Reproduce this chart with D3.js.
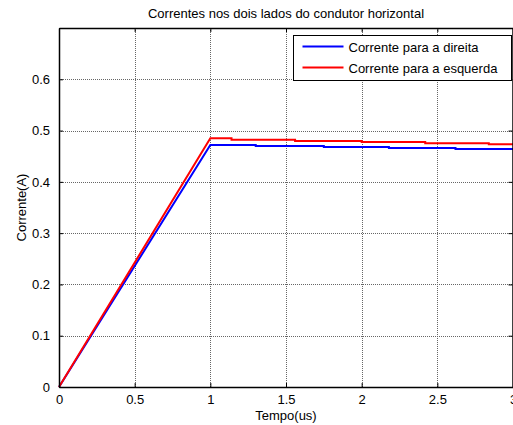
<!DOCTYPE html>
<html>
<head>
<meta charset="utf-8">
<script src="https://cdn.jsdelivr.net/npm/d3@7"></script>
<style>
  body { margin: 0; background: #fff; }
  svg { font-family: "Liberation Sans", Arial, sans-serif; }
</style>
</head>
<body>
<div id="container"></div>
<script>
// current to the right (blue)
var tRight = [0, 1, 1.30, 1.30, 1.75, 1.75, 2.18, 2.18, 2.62, 2.62, 3];
var iRight = [0, 0.472, 0.472, 0.470, 0.470, 0.468, 0.468, 0.466, 0.466, 0.464, 0.464];
// current to the left (red)
var tLeft = [0, 1, 1.14, 1.14, 1.56, 1.56, 2.0, 2.0, 2.42, 2.42, 2.84, 2.84, 3];
var iLeft = [0, 0.485, 0.485, 0.482, 0.482, 0.4795, 0.4795, 0.4775, 0.4775, 0.4755, 0.4755, 0.4735, 0.4735];

var xTicks = [0, 0.5, 1, 1.5, 2, 2.5, 3];
var yTicks = [0, 0.1, 0.2, 0.3, 0.4, 0.5, 0.6];
var legendNames = ["Corrente para a direita", "Corrente para a esquerda"];
var colors = ["#0000ff", "#ff0000"];

var W = 513, H = 425;
var mLeft = 59, mRight = 513, mTop = 28, mBottom = 387;
var FS = 13;

var drawChart = function () {
    var svg = d3.select("#container").append("svg")
        .attr("width", W)
        .attr("height", H);

    var x = d3.scaleLinear().domain([0, 3]).range([mLeft, mRight]);
    var y = d3.scaleLinear().domain([0, 0.7]).range([mBottom, mTop]);

    // grid
    var grid = svg.append("g").attr("stroke", "#666").attr("stroke-width", 1)
        .attr("stroke-dasharray", "1,1");
    xTicks.forEach(function (t) {
        grid.append("line")
            .attr("x1", Math.round(x(t)) + 0.5).attr("x2", Math.round(x(t)) + 0.5)
            .attr("y1", mTop).attr("y2", mBottom);
    });
    yTicks.forEach(function (t) {
        grid.append("line")
            .attr("x1", mLeft).attr("x2", mRight)
            .attr("y1", Math.round(y(t)) + 0.5).attr("y2", Math.round(y(t)) + 0.5);
    });

    // lines
    var line = d3.line().x(function (d) { return x(d[0]); }).y(function (d) { return y(d[1]); });
    var series = [d3.zip(tRight, iRight), d3.zip(tLeft, iLeft)];
    series.forEach(function (s, k) {
        svg.append("path")
            .datum(s)
            .attr("d", line)
            .attr("fill", "none")
            .attr("stroke", colors[k])
            .attr("stroke-width", 2);
    });

    // axes (ticks inward)
    var xAxis = svg.append("g")
        .attr("transform", "translate(0," + mBottom + ")")
        .call(d3.axisBottom(x).tickValues(xTicks).tickSizeInner(-4).tickSizeOuter(0).tickPadding(8)
            .tickFormat(d3.format("")));
    var xTop = svg.append("g")
        .attr("transform", "translate(0," + mTop + ")")
        .call(d3.axisTop(x).tickValues(xTicks).tickSizeInner(-4).tickSizeOuter(0).tickFormat(""));
    var yAxis = svg.append("g")
        .attr("transform", "translate(" + mLeft + ",0)")
        .call(d3.axisLeft(y).tickValues(yTicks).tickSizeInner(-4).tickSizeOuter(0).tickPadding(9)
            .tickFormat(d3.format("")));
    var yRight = svg.append("g")
        .attr("transform", "translate(" + (mRight - 0.5) + ",0)")
        .call(d3.axisRight(y).tickValues(yTicks).tickSizeInner(-4).tickSizeOuter(0).tickFormat(""));

    [xAxis, xTop, yAxis, yRight].forEach(function (a) {
        a.select(".domain").attr("stroke", "#000").attr("stroke-width", 1.5);
        a.selectAll(".tick line").attr("stroke", "#000");
        a.selectAll("text").attr("font-size", FS).attr("font-family", "Liberation Sans, Arial, sans-serif")
            .attr("fill", "#000");
    });

    // title and labels
    svg.append("text")
        .attr("x", (mLeft + mRight) / 2).attr("y", 18)
        .attr("text-anchor", "middle").attr("font-size", FS)
        .text("Correntes nos dois lados do condutor horizontal");
    svg.append("text")
        .attr("x", (mLeft + mRight) / 2).attr("y", 420)
        .attr("text-anchor", "middle").attr("font-size", FS)
        .text("Tempo(us)");
    svg.append("text")
        .attr("transform", "translate(26," + (mTop + mBottom) / 2 + ") rotate(-90)")
        .attr("text-anchor", "middle").attr("font-size", FS)
        .text("Corrente(A)");

    // legend
    var lg = svg.append("g").attr("transform", "translate(293.5,35.5)");
    lg.append("rect").attr("width", 218).attr("height", 45)
        .attr("fill", "#fff").attr("stroke", "#000").attr("stroke-width", 1);
    legendNames.forEach(function (name, k) {
        var yy = 11 + k * 21;
        lg.append("line").attr("x1", 9).attr("x2", 50).attr("y1", yy).attr("y2", yy)
            .attr("stroke", colors[k]).attr("stroke-width", 2);
        lg.append("text").attr("x", 55).attr("y", yy + 5).attr("font-size", FS).text(name);
    });
};

window.onload = drawChart;
</script>
</body>
</html>
